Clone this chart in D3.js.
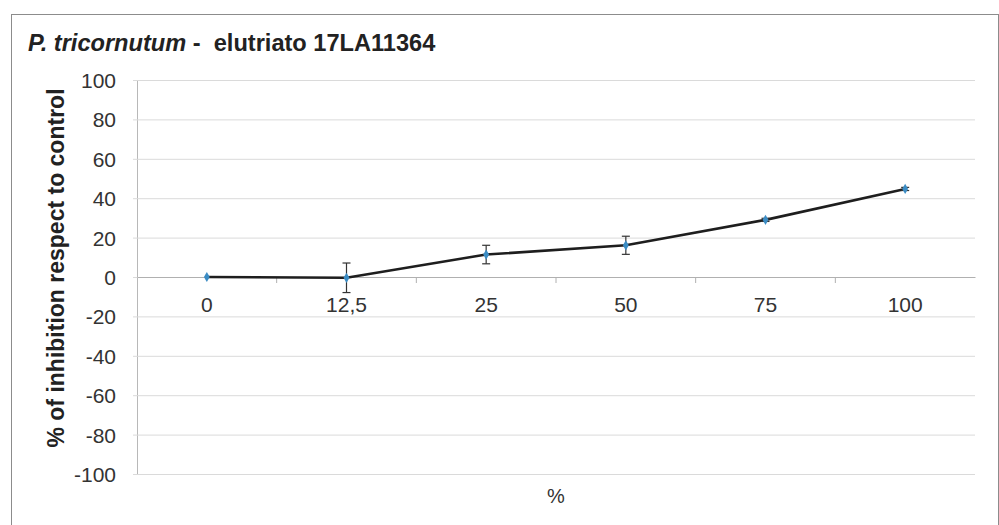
<!DOCTYPE html>
<html>
<head>
<meta charset="utf-8">
<script src="https://cdn.jsdelivr.net/npm/d3@7"></script>
<style>
  html, body { margin: 0; padding: 0; background: #fff; }
  svg { display: block; font-family: "Liberation Sans", Arial, sans-serif; }
</style>
</head>
<body>
<div id="chart"></div>
<script>
// P. tricornutum - elutriato 17LA11364
const categories = ["0", "12,5", "25", "50", "75", "100"]
const inhibition = [0, -0.4, 11.4, 16.1, 29, 44.7]
const errors = [0, 7.5, 4.7, 4.6, 0.8, 0.8]
const yTicks = [-100, -80, -60, -40, -20, 0, 20, 40, 60, 80, 100]

const W = 999, H = 525
const plot = {left: 137, right: 975, top: 80, bottom: 474}

const svg = d3.select("#chart").append("svg")
    .attr("width", W)
    .attr("height", H)

// outer frame
svg.append("rect")
    .attr("x", 11.5).attr("y", 14.5)
    .attr("width", 987).attr("height", 530)
    .style("fill", "#fff")
    .style("stroke", "#8c8c8c")
    .style("stroke-width", 1)

const x = d3.scaleBand().domain(categories).range([plot.left, plot.right]).padding(0)
const y = d3.scaleLinear().domain([-100, 100]).range([plot.bottom, plot.top])

// horizontal gridlines + y axis
const yAxis = svg.append("g")
    .attr("transform", "translate(" + plot.left + ",0)")
    .call(d3.axisLeft(y).tickValues(yTicks).tickSize(-(plot.right - plot.left)).tickSizeOuter(0).tickPadding(21)
        .tickFormat(d => d < 0 ? "-" + Math.abs(d) : d))
yAxis.select(".domain").style("stroke", "#b8b8b8")
yAxis.selectAll(".tick line")
    .attr("x1", -4)
    .style("stroke", "#dadada")
yAxis.selectAll(".tick text")
    .style("font-size", "21px")
    .style("fill", "#333")
    .attr("dy", "0.36em")

// category axis on the zero line, labels under it
const xAxis = svg.append("g")
    .attr("transform", "translate(0," + y(0) + ")")
    .call(d3.axisBottom(x).tickSize(0).tickPadding(20))
xAxis.select(".domain").style("stroke", "#b0b0b0")
xAxis.selectAll(".tick text")
    .style("font-size", "21px")
    .style("fill", "#333")

// tick marks between the categories
svg.append("g")
    .selectAll("line")
    .data(categories.slice(1)).enter()
    .append("line")
    .attr("x1", d => x(d)).attr("x2", d => x(d))
    .attr("y1", y(0)).attr("y2", y(0) + 6)
    .style("stroke", "#b0b0b0")

const cx = d => x(d) + x.bandwidth() / 2
const pts = categories.map((c, i) => ({c: c, v: inhibition[i], e: errors[i]}))

// series line
svg.append("path")
    .datum(pts)
    .attr("d", d3.line().x(d => cx(d.c)).y(d => y(d.v)))
    .style("fill", "none")
    .style("stroke", "#1e1e1e")
    .style("stroke-width", 2.6)

// error bars
const eb = svg.append("g").selectAll("g")
    .data(pts.filter(d => d.e > 0)).enter()
    .append("g")
    .style("stroke", "#333")
    .style("stroke-width", 1.2)
eb.append("line")
    .attr("x1", d => cx(d.c)).attr("x2", d => cx(d.c))
    .attr("y1", d => y(d.v + d.e)).attr("y2", d => y(d.v - d.e))
eb.append("line")
    .attr("x1", d => cx(d.c) - 4).attr("x2", d => cx(d.c) + 4)
    .attr("y1", d => y(d.v + d.e)).attr("y2", d => y(d.v + d.e))
eb.append("line")
    .attr("x1", d => cx(d.c) - 4).attr("x2", d => cx(d.c) + 4)
    .attr("y1", d => y(d.v - d.e)).attr("y2", d => y(d.v - d.e))

// diamond markers
svg.append("g").selectAll("path")
    .data(pts).enter()
    .append("path")
    .attr("d", d3.symbol(d3.symbolDiamond, 30))
    .attr("transform", d => "translate(" + cx(d.c) + "," + y(d.v) + ")")
    .style("fill", "#3b8cc4")

// title
const title = svg.append("text")
    .attr("x", 28).attr("y", 51)
    .attr("xml:space", "preserve")
    .style("font-size", "23.6px")
    .style("font-weight", "bold")
    .style("fill", "#222")
title.append("tspan").style("font-style", "italic").text("P. tricornutum")
title.append("tspan").text(" -  elutriato 17LA11364")

// axis titles
svg.append("text")
    .attr("transform", "translate(64,268) rotate(-90)")
    .attr("text-anchor", "middle")
    .style("font-size", "23px")
    .style("font-weight", "bold")
    .style("fill", "#222")
    .text("% of inhibition respect to control")

svg.append("text")
    .attr("x", (plot.left + plot.right) / 2).attr("y", 503)
    .attr("text-anchor", "middle")
    .style("font-size", "20px")
    .style("fill", "#333")
    .text("%")
</script>
</body>
</html>
